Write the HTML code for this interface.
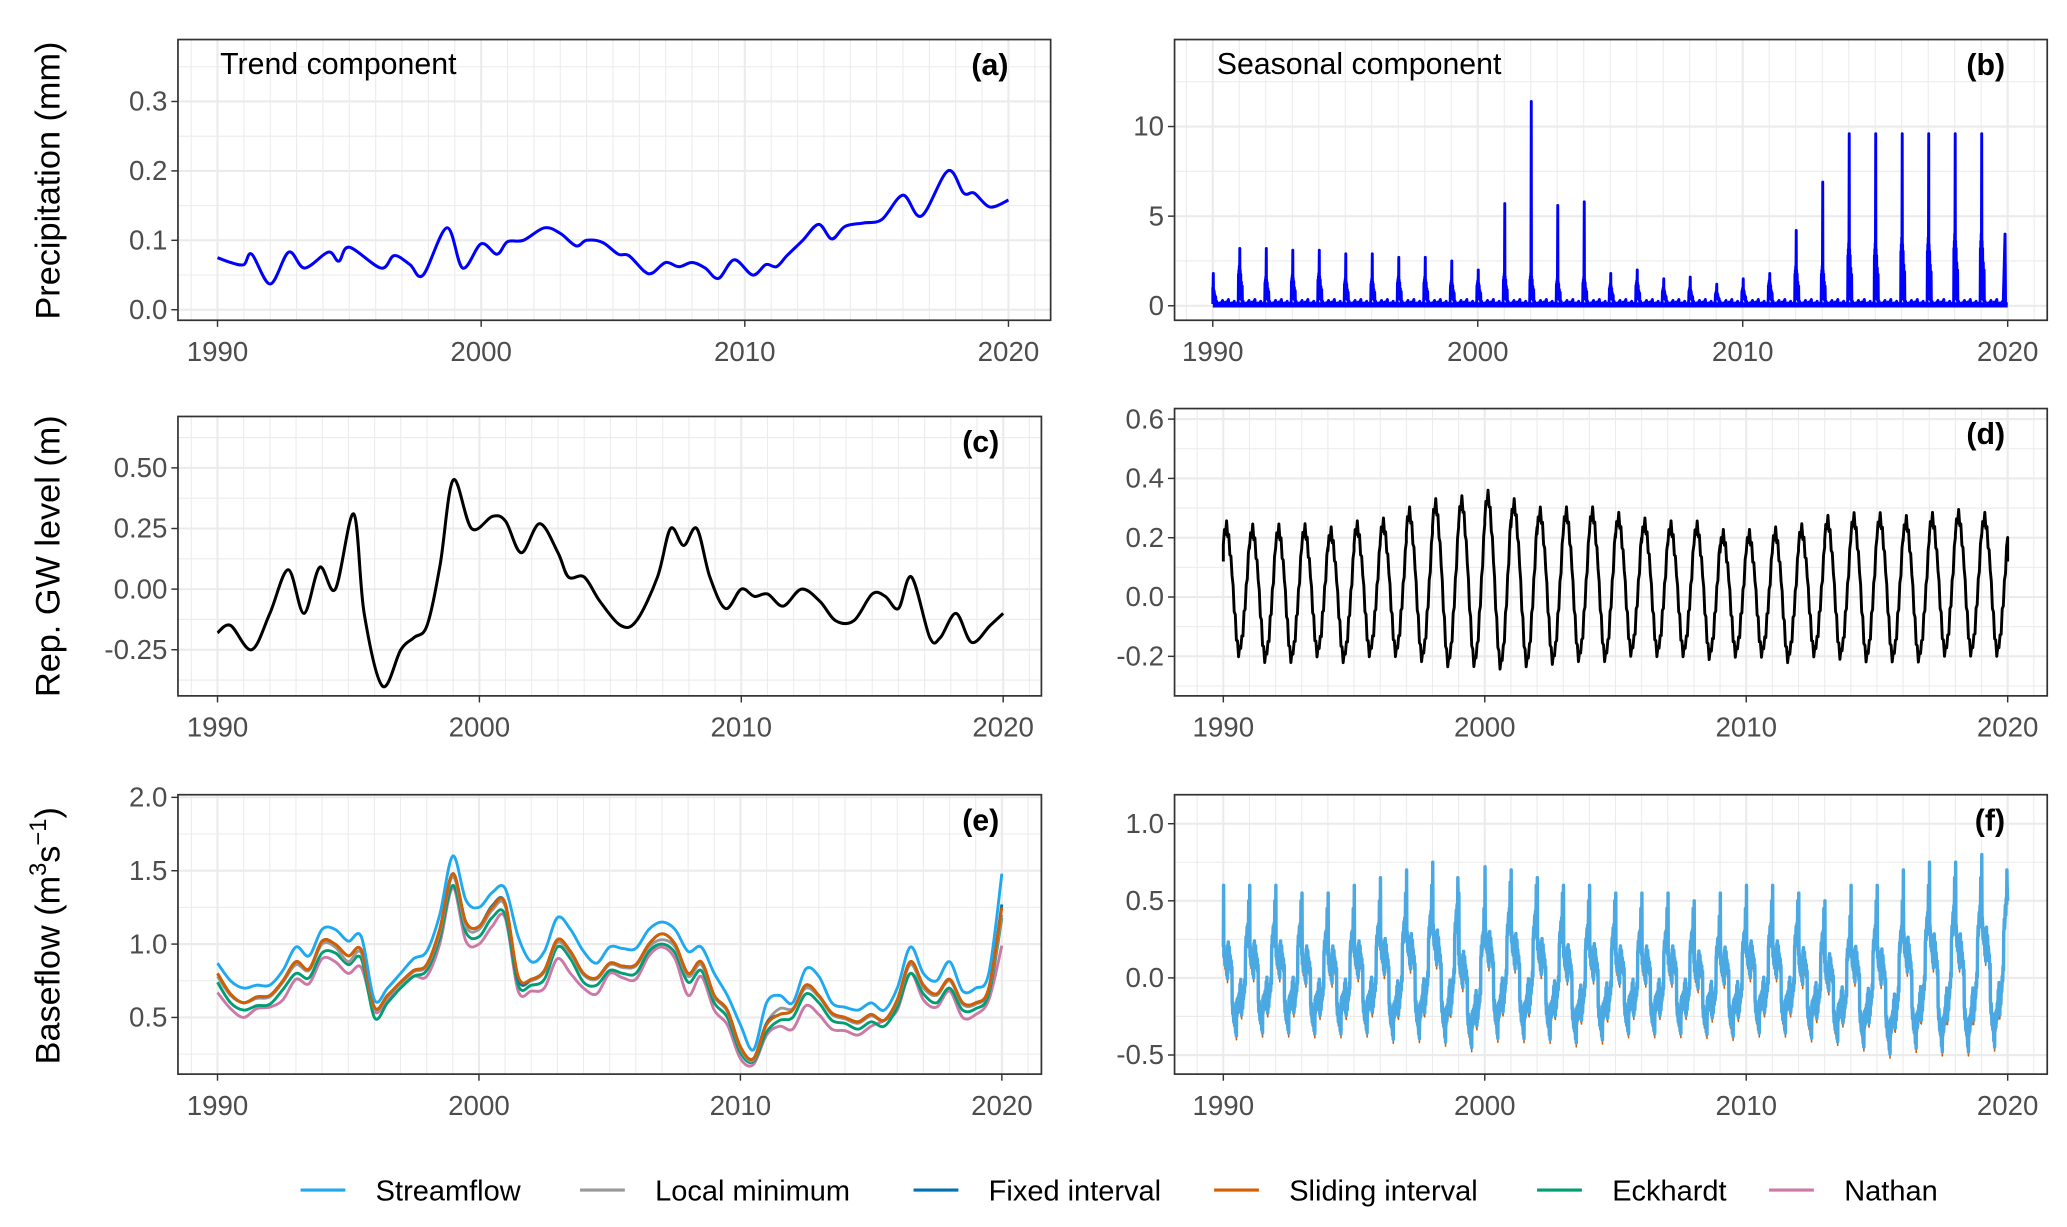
<!DOCTYPE html>
<html><head><meta charset="utf-8">
<style>
html,body{margin:0;padding:0;background:#fff;}
svg{display:block;}
text{font-family:"Liberation Sans",Arial,sans-serif;}
.tick{fill:#4d4d4d;font-size:21px;}
</style></head>
<body>
<svg id="fig" width="2067" height="1227" viewBox="0 0 1568 931" preserveAspectRatio="none" xmlns="http://www.w3.org/2000/svg">
<rect x="0" y="0" width="1568" height="931" fill="#fff"/>
<g id="root"></g>
</svg>
<script>
// ---------- DATA ----------
const trendYears=[1990,1990.5,1991,1991.3,1992,1992.7,1993.3,1994.2,1994.6,1995,1996.2,1996.7,1997.3,1997.8,1998.7,1999.3,2000,2000.6,2001,2001.6,2002.4,2003,2003.6,2004,2004.6,2005.2,2005.6,2006.2,2006.5,2007,2007.5,2008,2008.5,2009,2009.6,2010.3,2010.8,2011.2,2011.6,2012.2,2012.8,2013.3,2013.8,2014.5,2015.2,2016,2016.7,2017.7,2018.3,2018.7,2019.3,2020];
const precipTrend=[.075,.068,.065,.08,.037,.083,.06,.083,.07,.09,.06,.078,.065,.05,.118,.06,.095,.08,.098,.1,.118,.11,.092,.1,.097,.08,.078,.055,.053,.068,.062,.068,.06,.045,.072,.05,.065,.062,.078,.1,.123,.102,.12,.125,.13,.165,.135,.2,.168,.168,.148,.158];
const gwYears=[1990,1990.5,1991.3,1992,1992.7,1993.3,1993.9,1994.5,1995.2,1995.6,1996.3,1997,1997.5,1998,1998.5,1999,1999.7,2000.5,2001,2001.6,2002.3,2003,2003.4,2004,2004.6,2005.4,2006,2006.8,2007.3,2007.8,2008.3,2008.8,2009.4,2010,2010.5,2011,2011.6,2012.3,2013,2013.6,2014.3,2015,2015.5,2016,2016.5,2017.2,2017.6,2018.2,2018.8,2019.5,2020];
const gwTrend=[-.18,-.15,-.25,-.1,.08,-.1,.09,0,.31,-.1,-.4,-.25,-.2,-.15,.1,.45,.25,.3,.28,.15,.27,.15,.05,.05,-.05,-.15,-.13,.05,.25,.18,.25,.05,-.08,0,-.03,-.02,-.07,0,-.05,-.13,-.13,-.02,-.03,-.08,.05,-.2,-.2,-.1,-.22,-.15,-.1];
const seasonYears=[1990,1991,1992,1993,1994,1995,1996,1997,1998,1999,2000,2001,2002,2003,2004,2005,2006,2007,2008,2009,2010,2011,2012,2013,2014,2015,2016,2017,2018,2019];
const precipSeasonPeak=[1.8,3.2,3.2,3.1,3.1,2.9,2.9,2.7,2.7,2.5,2.0,5.7,11.4,5.6,5.8,1.8,2.0,1.5,1.6,1.2,1.5,1.8,4.2,6.9,9.6,9.6,9.6,9.6,9.6,9.6];
const precipSeasonSecond=[1.0,2.2,1.6,1.7,1.8,1.5,1.5,1.6,1.6,1.4,1.4,1.8,1.8,1.5,1.6,1.2,1.4,1.0,1.0,0.8,1.0,1.4,2.2,2.2,3.5,3.5,3.8,3.8,4.0,4.0];
const gwSeasonMax=[.25,.24,.24,.24,.23,.25,.26,.3,.33,.34,.36,.33,.3,.3,.3,.28,.26,.25,.25,.22,.22,.23,.24,.27,.28,.28,.27,.28,.29,.28];
const gwSeasonMin=[-.2,-.22,-.22,-.2,-.22,-.2,-.2,-.22,-.24,-.24,-.25,-.24,-.23,-.22,-.22,-.2,-.2,-.2,-.21,-.2,-.2,-.22,-.2,-.21,-.22,-.22,-.22,-.2,-.2,-.2];
const flowSeasonMax=[.6,.6,.6,.55,.55,.6,.65,.7,.75,.55,.72,.7,.65,.6,.6,.55,.55,.55,.5,.55,.6,.6,.55,.5,.6,.6,.7,.75,.75,.8];
const flowSeasonMin=[-.42,-.4,-.4,-.4,-.4,-.4,-.45,-.45,-.48,-.5,-.45,-.45,-.45,-.47,-.45,-.4,-.4,-.4,-.4,-.42,-.4,-.4,-.43,-.45,-.5,-.55,-.52,-.55,-.55,-.52];
const bfYears=[];for(let y=1990;y<=2020.001;y+=0.5)bfYears.push(y);
const streamflow=[.87,.75,.70,.72,.72,.82,.98,.92,1.10,1.10,1.02,1.05,.62,.70,.80,.90,.95,1.20,1.60,1.30,1.25,1.35,1.38,1.05,.88,.95,1.18,1.10,.95,.87,.98,.97,.97,1.10,1.15,1.10,.95,.98,.80,.65,.45,.28,.60,.65,.60,.83,.78,.60,.57,.55,.60,.55,.70,.98,.80,.75,.88,.68,.70,.80,1.48];
const localMin=[.78,.65,.60,.63,.64,.74,.86,.82,1.00,.98,.88,.94,.56,.64,.73,.81,.85,1.08,1.46,1.12,1.10,1.23,1.26,.76,.75,.81,1.01,.93,.79,.76,.86,.84,.85,.98,1.03,.98,.78,.86,.64,.54,.29,.21,.46,.56,.56,.70,.64,.52,.49,.46,.51,.48,.61,.86,.70,.65,.75,.59,.59,.69,1.20];
const fixedInt=[.80,.66,.60,.64,.65,.75,.88,.83,1.02,1.00,.92,.96,.57,.65,.74,.82,.86,1.10,1.48,1.15,1.12,1.26,1.28,.76,.76,.82,1.03,.95,.80,.77,.87,.85,.86,1.00,1.07,1.00,.80,.88,.65,.55,.30,.22,.46,.52,.55,.72,.65,.53,.50,.47,.52,.48,.62,.88,.72,.66,.76,.60,.60,.70,1.27];
const slidingInt=[.80,.66,.60,.64,.65,.75,.88,.83,1.02,1.00,.92,.96,.57,.65,.74,.82,.86,1.10,1.48,1.15,1.12,1.25,1.28,.78,.76,.82,1.03,.95,.80,.77,.87,.85,.86,1.00,1.07,1.00,.80,.88,.65,.55,.30,.22,.45,.52,.55,.72,.65,.53,.50,.47,.52,.48,.62,.88,.72,.66,.76,.60,.60,.70,1.25];
const eckhardt=[.74,.60,.55,.58,.59,.69,.80,.77,.94,.94,.86,.90,.50,.60,.70,.78,.82,1.04,1.40,1.08,1.05,1.18,1.20,.72,.72,.76,.98,.90,.74,.72,.82,.80,.80,.95,1.00,.94,.74,.82,.60,.50,.26,.20,.40,.48,.50,.66,.60,.48,.46,.42,.47,.44,.57,.80,.66,.60,.70,.55,.56,.66,1.18];
const nathan=[.67,.56,.50,.56,.57,.62,.76,.73,.90,.88,.80,.84,.54,.62,.70,.78,.78,1.00,1.38,1.02,1.00,1.12,1.18,.68,.68,.70,.90,.80,.70,.66,.80,.77,.76,.92,.98,.90,.65,.78,.55,.45,.22,.18,.38,.44,.42,.58,.52,.42,.41,.38,.44,.48,.55,.80,.62,.57,.68,.50,.52,.62,.99];
const xTicks=[1990,2000,2010,2020];
const legendLabels=["Streamflow","Local minimum","Fixed interval","Sliding interval","Eckhardt","Nathan"];

// ---------- HELPERS ----------
const NS="http://www.w3.org/2000/svg";
const root=document.getElementById('root');
function el(tag,attrs,parent){const e=document.createElementNS(NS,tag);for(const k in attrs)e.setAttribute(k,attrs[k]);(parent||root).appendChild(e);return e;}
function smoothPath(pts){
  let d=`M${pts[0][0].toFixed(2)},${pts[0][1].toFixed(2)}`;
  for(let i=0;i<pts.length-1;i++){
    const p0=pts[Math.max(0,i-1)],p1=pts[i],p2=pts[i+1],p3=pts[Math.min(pts.length-1,i+2)];
    const c1=[p1[0]+(p2[0]-p0[0])/6,p1[1]+(p2[1]-p0[1])/6];
    const c2=[p2[0]-(p3[0]-p1[0])/6,p2[1]-(p3[1]-p1[1])/6];
    d+=`C${c1[0].toFixed(2)},${c1[1].toFixed(2)} ${c2[0].toFixed(2)},${c2[1].toFixed(2)} ${p2[0].toFixed(2)},${p2[1].toFixed(2)}`;
  }
  return d;
}
function polyPath(pts){return 'M'+pts.map(p=>p[0].toFixed(2)+','+p[1].toFixed(2)).join('L');}

function panel(cfg){
  const g=el('g',{});
  
  
  const sx=v=>cfg.x0+(v-1990)/30*(cfg.x1-cfg.x0);
  const sy=v=>cfg.yA+(v-cfg.vA)/(cfg.vB-cfg.vA)*(cfg.yB-cfg.yA);
  for(let y=1989;y<=2021;y++){const x=sx(y);if(x<cfg.L||x>cfg.R)continue;
    const l=el('line',{x1:x,x2:x,y1:cfg.T,y2:cfg.B,stroke:'#ebebeb','stroke-width':y%10===0?1.6:0.8},g);
    }
  for(const t of cfg.yMinor){const y=sy(t);if(y<cfg.T||y>cfg.B)continue;
    const l=el('line',{x1:cfg.L,x2:cfg.R,y1:y,y2:y,stroke:'#ebebeb','stroke-width':0.8},g);
    }
  for(const t of cfg.yTicks){const y=sy(t);
    const l=el('line',{x1:cfg.L,x2:cfg.R,y1:y,y2:y,stroke:'#ebebeb','stroke-width':1.6},g);
    
    el('line',{x1:cfg.L-5,x2:cfg.L,y1:y,y2:y,stroke:'#333','stroke-width':1.1},g);
    const tx=el('text',{x:cfg.L-8,y:y+7,'text-anchor':'end',class:'tick'},g);tx.textContent=cfg.yFmt(t);
    }
  for(const t of xTicks){const x=sx(t);
    el('line',{x1:x,x2:x,y1:cfg.B,y2:cfg.B+5,stroke:'#333','stroke-width':1.1},g);
    const tx=el('text',{x:x,y:cfg.B+31,'text-anchor':'middle',class:'tick'},g);tx.textContent=String(t);
    }
  const clipId='clip-'+cfg.name;
  const cp=el('clipPath',{id:clipId},g);el('rect',{x:cfg.L,y:cfg.T,width:cfg.R-cfg.L,height:cfg.B-cfg.T},cp);
  const data=el('g',{'clip-path':`url(#${clipId})`},g);
  
  cfg.draw(data,sx,sy);
  const box=el('rect',{x:cfg.L,y:cfg.T,width:cfg.R-cfg.L,height:cfg.B-cfg.T,fill:'none',stroke:'#333','stroke-width':1.3},g);
  
  const lab=el('text',{x:cfg.R-32,y:cfg.T+27,'text-anchor':'end','font-size':'23px','font-weight':'bold',fill:'#000'},g);
  lab.textContent=cfg.label;
  if(cfg.title){const t=el('text',{x:cfg.L+32,y:cfg.T+26,'font-size':'23px',fill:'#000'},g);t.textContent=cfg.title;
    }
  return g;
}
function line(parent,pts,color,w,name,smooth){
  const p=el('path',{d:smooth===false?polyPath(pts):smoothPath(pts),fill:'none',stroke:color,'stroke-width':w,'stroke-linejoin':'round'},parent);
  return p;
}
const f2=v=>v.toFixed(2), f1=v=>v.toFixed(1), f0=v=>String(v);

// (a)
panel({name:'panel-a-trend-precip',label:'(a)',title:'Trend component',L:135,R:797,T:30,B:243,x0:165,x1:765,vA:0,yA:235,vB:0.3,yB:77,
  yTicks:[0,0.1,0.2,0.3],yMinor:[0.05,0.15,0.25,0.35],yFmt:f1,
  draw:(g,sx,sy)=>line(g,trendYears.map((y,i)=>[sx(y),sy(precipTrend[i])]),'#0000ff',2.3,'precip-trend-line')});
// (b)
panel({name:'panel-b-seasonal-precip',label:'(b)',title:'Seasonal component',L:891,R:1553,T:30,B:243,x0:920,x1:1523,vA:0,yA:232,vB:10,yB:96,
  yTicks:[0,5,10],yMinor:[-2.5,2.5,7.5,12.5],yFmt:f0,
  draw:(g,sx,sy)=>{
    const pts=[[sx(1990),sy(0.1)]];
    const small=[0.25,0.15,0.3,0.2,0.35,0.15,0.25];
    seasonYears.forEach((yr,i)=>{
      const s=precipSeasonSecond[i],p=precipSeasonPeak[i];
      const seq=[[-0.06,0.2],[-0.05,s*0.8],[-0.045,0.6],[-0.035,s*0.9],[-0.03,0.5],[-0.02,s],[-0.015,0.6],
                 [0.0,p],[0.008,0.4],[0.015,s*0.9],[0.025,0.5],[0.035,s*0.8],[0.045,0.5],[0.06,s*0.6],[0.07,0.3],[0.09,s*0.5],[0.1,0.15]];
      seq.forEach(q=>{const t=yr+0.02+q[0];if(t>=1990)pts.push([sx(t),sy(q[1])]);});
      for(let k=0;k<7;k++){const t=yr+0.15+k*0.11;pts.push([sx(t),sy(small[k])]);pts.push([sx(t+0.02),sy(0.05)]);}
    });
    pts.push([sx(2019.9),sy(4.0)]);pts.push([sx(2019.92),sy(0.1)]);pts.push([sx(2020),sy(0.1)]);
    line(g,pts,'#0000ff',2.2,'precip-seasonal-line',false);
    const b=el('line',{x1:sx(1990),x2:sx(2020),y1:sy(0.05),y2:sy(0.05),stroke:'#0000ff','stroke-width':4},g);
    
  }});
// (c)
panel({name:'panel-c-trend-gw',label:'(c)',L:135,R:790,T:316,B:528,x0:165,x1:761,vA:0,yA:447,vB:0.5,yB:355,
  yTicks:[-0.25,0,0.25,0.5],yMinor:[-0.375,-0.125,0.125,0.375,0.625],yFmt:f2,
  draw:(g,sx,sy)=>line(g,gwYears.map((y,i)=>[sx(y),sy(gwTrend[i])]),'#000',2.3,'gw-trend-line')});
// (d)
panel({name:'panel-d-seasonal-gw',label:'(d)',L:891,R:1553,T:310,B:528,x0:928,x1:1523,vA:0,yA:453,vB:0.6,yB:318,
  yTicks:[-0.2,0,0.2,0.4,0.6],yMinor:[-0.3,-0.1,0.1,0.3,0.5],yFmt:f1,
  draw:(g,sx,sy)=>{
    const jit=[0,.02,-.015,.025,-.02,.01,-.025,.015];
    const pts=[[sx(1990),sy(0.12)]];
    seasonYears.forEach((yr,i)=>{
      const mx=gwSeasonMax[i],mn=gwSeasonMin[i];
      for(let k=0;k<=24;k++){const t=k/24;
        const ph=Math.cos(2*Math.PI*(t-0.12));
        const v=(mx+mn)/2+(mx-mn)/2*ph*0.92+jit[k%8];
        pts.push([sx(yr+t),sy(v)]);}
    });
    pts.push([sx(2020),sy(0.12)]);
    line(g,pts,'#000',2.2,'gw-seasonal-line',false);
  }});
// (e)
panel({name:'panel-e-baseflow-trend',label:'(e)',L:135,R:790,T:603,B:815,x0:165,x1:760,vA:0.5,yA:772,vB:2.0,yB:605,
  yTicks:[0.5,1.0,1.5,2.0],yMinor:[0.25,0.75,1.25,1.75],yFmt:f1,
  draw:(g,sx,sy)=>{
    const series=[[nathan,'#CC79A7','nathan-line'],[eckhardt,'#009E73','eckhardt-line'],[localMin,'#999999','local-minimum-line'],[fixedInt,'#0072B2','fixed-interval-line'],[slidingInt,'#D55E00','sliding-interval-line'],[streamflow,'#1fa9f0','streamflow-line']];
    series.forEach(s=>line(g,bfYears.map((y,i)=>[sx(y),sy(s[0][i])]),s[1],2.2,s[2]));
  }});
// (f)
panel({name:'panel-f-baseflow-seasonal',label:'(f)',L:891,R:1553,T:603,B:815,x0:928,x1:1523,vA:0,yA:742,vB:1.0,yB:625,
  yTicks:[-0.5,0,0.5,1.0],yMinor:[-0.25,0.25,0.75],yFmt:f1,
  draw:(g,sx,sy)=>{
    const jit=[.1,-.09,.14,-.06,.08,-.12,.15,-.1,.05,-.13,.12,-.07,.09,-.14,.07,-.08,.13];
    const pts=[];
    seasonYears.forEach((yr,i)=>{
      const mx=flowSeasonMax[i],mn=flowSeasonMin[i];
      const hi=mx-0.3,lo=mn+0.12;
      for(let k=0;k<100;k++){const t=k/100;
        let c;
        if(t<0.55)c=hi+(lo-hi)*(t/0.55); else c=lo+(hi-lo)*((t-0.55)/0.45);
        let v=c+jit[k%17]*(k%2?1:-1);
        if(k===1)v=mx; if(k===97)v=mx-0.1;
        pts.push([sx(yr+t),sy(v)]);}
    });
    pts.push([sx(2020),sy(0.5)]);
    line(g,pts.map(p=>[p[0],p[1]+3]),'#D55E00',1.2,'sliding-interval-seasonal-line',false);
    line(g,pts,'#4aa8e3',2.6,'streamflow-seasonal-line',false);
  }});

// Axis titles
function ytitle(txt,cy,name){const t=el('text',{x:0,y:0,transform:`translate(45,${cy}) rotate(-90)`,'text-anchor':'middle','font-size':'26px',fill:'#000'});
  t.textContent=txt;return t;}
ytitle('Precipitation (mm)',137,'y-axis-title-precip');
ytitle('Rep. GW level (m)',422,'y-axis-title-gw');
const bt=ytitle('',710,'y-axis-title-baseflow');
bt.innerHTML='Baseflow (m<tspan dy="-10" font-size="18px">3</tspan><tspan dy="10">s</tspan><tspan dy="-10" font-size="18px">−1</tspan><tspan dy="10">)</tspan>';

// Legend
const lg=el('g',{});
const legColors=['#1fa9f0','#999999','#0072B2','#D55E00','#009E73','#CC79A7'];
const legX=[228,440,693,921,1166,1342];
legendLabels.forEach((lab,i)=>{
  const e=el('g',{},lg);
  
  
  el('line',{x1:legX[i],x2:legX[i]+34,y1:903,y2:903,stroke:legColors[i],'stroke-width':2.4},e);
  const t=el('text',{x:legX[i]+57,y:911,'font-size':'22px',fill:'#000'},e);t.textContent=lab;
});
</script>
</body></html>
